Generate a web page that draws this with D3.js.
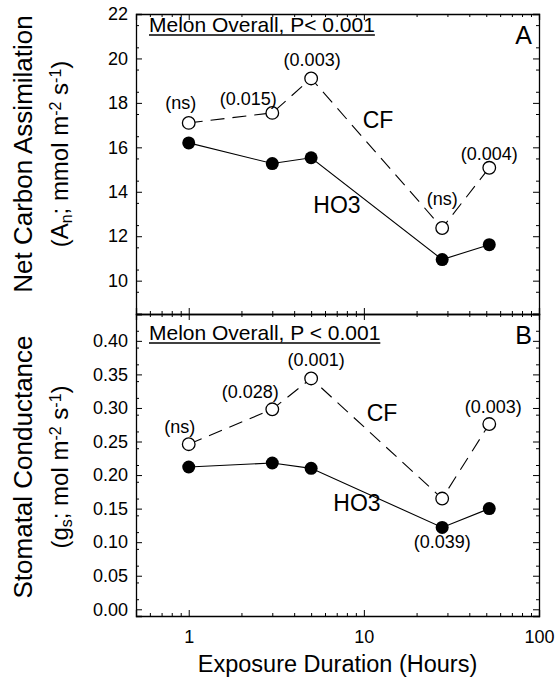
<!DOCTYPE html>
<html>
<head>
<meta charset="utf-8">
<script src="https://cdn.jsdelivr.net/npm/d3@7"></script>
<style>
  body { margin: 0; background: #fff; }
  svg { font-family: "Liberation Sans", Arial, sans-serif; }
  .domain { stroke: #000; stroke-width: 1.3; }
  .tick line { stroke: #000; stroke-width: 1; }
</style>
</head>
<body>
<div id="chart"></div>
<script>
// Exposure duration (hours)
const hours = [1, 3, 5, 28, 52];

// Panel A: net carbon assimilation
const anCF = [17.1, 17.55, 19.1, 12.37, 15.08];
const anHO3 = [16.2, 15.27, 15.53, 10.95, 11.62];
const anPvals = ["(ns)", "(0.015)", "(0.003)", "(ns)", "(0.004)"];

// Panel B: stomatal conductance
const gsCF = [0.246, 0.298, 0.344, 0.165, 0.276];
const gsHO3 = [0.212, 0.218, 0.210, 0.122, 0.150];
const gsPvals = ["(ns)", "(0.028)", "(0.001)", "", "(0.003)"];
const gsHO3Pvals = ["", "", "", "(0.039)", ""];

const xTicks = [1, 10, 100];
const anTicks = [10, 12, 14, 16, 18, 20, 22];
const gsTicks = [0, 0.05, 0.10, 0.15, 0.20, 0.25, 0.30, 0.35, 0.40];

const W = 555, H = 687;
const left = 136, right = 539;
const topA = 14, split = 314, bottomB = 616;

const svg = d3.select('#chart').append('svg')
    .attr('width', W)
    .attr('height', H);

const x = d3.scaleLog().domain([0.5, 100]).range([left, right]);
const minorX = [0.6, 0.7, 0.8, 0.9, 2, 3, 4, 5, 6, 7, 8, 9, 20, 30, 40, 50, 60, 70, 80, 90];

const yA = d3.scaleLinear().domain([8.5, 22]).range([split, topA]);
const yB = d3.scaleLinear().domain([-0.01, 0.44]).range([bottomB, split]);

// label offsets (px) relative to each point
const offA = [[-8, -14], [-24, -8], [1, -12], [0, -23], [0, -8]];
const offB = [[-9, -11], [-22, -11], [5, -12], [0, 0], [4, -11]];

function panel(y, ticks, minorStep, yTop, yBot, cf, ho3, pv, opts) {
    // frame axes: left / right with inward ticks
    const minor = d3.range(y.domain()[0], y.domain()[1] + 1e-9, minorStep)
        .filter(v => !ticks.some(t => Math.abs(t - v) < 1e-9) && v >= ticks[0] - minorStep);
    svg.append('g')
        .attr('transform', `translate(${left},0)`)
        .call(d3.axisLeft(y).tickValues(ticks).tickSize(-6).tickPadding(8).tickFormat(opts.fmt))
        .call(g => g.selectAll('text').style('font-size', '18px').attr('fill', '#000'));
    svg.append('g')
        .attr('transform', `translate(${left},0)`)
        .call(d3.axisLeft(y).tickValues(minor).tickSize(-3).tickFormat(''))
        .call(g => g.select('.domain').remove());
    svg.append('g')
        .attr('transform', `translate(${right},0)`)
        .call(d3.axisRight(y).tickValues(ticks).tickSize(-6).tickFormat(''));
    svg.append('g')
        .attr('transform', `translate(${right},0)`)
        .call(d3.axisRight(y).tickValues(minor).tickSize(-3).tickFormat(''))
        .call(g => g.select('.domain').remove());

    // top / bottom x axes, ticks pointing in
    svg.append('g')
        .attr('transform', `translate(0,${yTop})`)
        .call(d3.axisTop(x).tickValues(xTicks).tickSize(-6).tickFormat(''));
    svg.append('g')
        .attr('transform', `translate(0,${yTop})`)
        .call(d3.axisTop(x).tickValues(minorX).tickSize(-3).tickFormat(''))
        .call(g => g.select('.domain').remove());
    const bx = svg.append('g')
        .attr('transform', `translate(0,${yBot})`)
        .call(d3.axisBottom(x).tickValues(xTicks).tickSize(-6).tickPadding(14)
            .tickFormat(opts.xLabels ? d3.format('d') : ''));
    bx.selectAll('text').style('font-size', '18px').attr('fill', '#000');
    svg.append('g')
        .attr('transform', `translate(0,${yBot})`)
        .call(d3.axisBottom(x).tickValues(minorX).tickSize(-3).tickFormat(''))
        .call(g => g.select('.domain').remove());

    const pts = (vals) => hours.map((h, i) => [x(h), y(vals[i])]);

    // CF dashed line
    svg.append('path')
        .attr('d', d3.line()(pts(cf)))
        .attr('fill', 'none')
        .attr('stroke', '#000')
        .attr('stroke-width', 1.1)
        .attr('stroke-dasharray', '14,8');
    // HO3 solid line
    svg.append('path')
        .attr('d', d3.line()(pts(ho3)))
        .attr('fill', 'none')
        .attr('stroke', '#000')
        .attr('stroke-width', 1.1);

    svg.append('g').selectAll('circle')
        .data(pts(cf))
        .enter().append('circle')
        .attr('cx', d => d[0]).attr('cy', d => d[1]).attr('r', 6.3)
        .attr('fill', '#fff').attr('stroke', '#000').attr('stroke-width', 1.3);
    svg.append('g').selectAll('circle')
        .data(pts(ho3))
        .enter().append('circle')
        .attr('cx', d => d[0]).attr('cy', d => d[1]).attr('r', 6.5)
        .attr('fill', '#000');

    // p-value labels above CF points
    svg.append('g').selectAll('text')
        .data(pts(cf))
        .enter().append('text')
        .attr('x', (d, i) => d[0] + opts.off[i][0])
        .attr('y', (d, i) => d[1] + opts.off[i][1])
        .attr('text-anchor', 'middle')
        .style('font-size', '18px')
        .text((d, i) => pv[i]);

    if (opts.ho3Pv) {
        svg.append('g').selectAll('text')
            .data(pts(ho3))
            .enter().append('text')
            .attr('x', d => d[0])
            .attr('y', d => d[1] + 21)
            .attr('text-anchor', 'middle')
            .style('font-size', '18px')
            .text((d, i) => opts.ho3Pv[i]);
    }

    // series labels
    svg.append('text')
        .attr('x', opts.cfLab[0]).attr('y', opts.cfLab[1])
        .attr('text-anchor', 'middle').style('font-size', '23px').text('CF');
    svg.append('text')
        .attr('x', opts.hoLab[0]).attr('y', opts.hoLab[1])
        .attr('text-anchor', 'middle').style('font-size', '23px').text('HO3');

    // title, underlined
    const t = svg.append('text')
        .attr('x', 149).attr('y', yTop + opts.titleDy)
        .style('font-size', '21px')
        .text(opts.title);
    const bb = t.node().getBBox();
    svg.append('line')
        .attr('x1', bb.x).attr('x2', bb.x + bb.width)
        .attr('y1', yTop + opts.titleDy + 3).attr('y2', yTop + opts.titleDy + 3)
        .attr('stroke', '#000').attr('stroke-width', 1.3);

    svg.append('text')
        .attr('x', 532).attr('y', yTop + 30)
        .attr('text-anchor', 'end')
        .style('font-size', '25px')
        .text(opts.letter);
}

panel(yA, anTicks, 1, topA, split, anCF, anHO3, anPvals, {
    fmt: d3.format('d'), xLabels: false, off: offA,
    cfLab: [378, 128], hoLab: [337, 213],
    title: 'Melon Overall, P< 0.001', titleDy: 18, letter: 'A'
});

panel(yB, gsTicks, 0.025, split, bottomB, gsCF, gsHO3, gsPvals, {
    fmt: d3.format('.2f'), xLabels: true, off: offB, ho3Pv: gsHO3Pvals,
    cfLab: [382, 421], hoLab: [357, 511],
    title: 'Melon Overall, P < 0.001', titleDy: 26, letter: 'B'
});

// y axis titles
function yTitle(cy, line1, line2) {
    const g = svg.append('g')
        .attr('transform', `translate(0,${cy}) rotate(-90)`);
    g.append('text').attr('x', 0).attr('y', 32).attr('text-anchor', 'middle')
        .style('font-size', '26px').text(line1);
    const t = g.append('text').attr('x', 0).attr('y', 68).attr('text-anchor', 'middle')
        .style('font-size', '24px');
    line2.forEach(p => {
        const s = t.append('tspan').text(p.t);
        if (p.sub) s.attr('baseline-shift', '-25%').style('font-size', '16px');
        if (p.sup) s.attr('baseline-shift', '45%').style('font-size', '16px');
    });
}

yTitle(154, 'Net Carbon Assimilation', [
    { t: '(A' }, { t: 'n', sub: true }, { t: '; mmol m' }, { t: '-2', sup: true },
    { t: ' s' }, { t: '-1', sup: true }, { t: ')' }
]);
yTitle(467, 'Stomatal Conductance', [
    { t: '(g' }, { t: 's', sub: true }, { t: '; mol m' }, { t: '-2', sup: true },
    { t: ' s' }, { t: '-1', sup: true }, { t: ')' }
]);

svg.append('text')
    .attr('x', (left + right) / 2)
    .attr('y', 672)
    .attr('text-anchor', 'middle')
    .style('font-size', '23.5px')
    .text('Exposure Duration (Hours)');
</script>
</body>
</html>
